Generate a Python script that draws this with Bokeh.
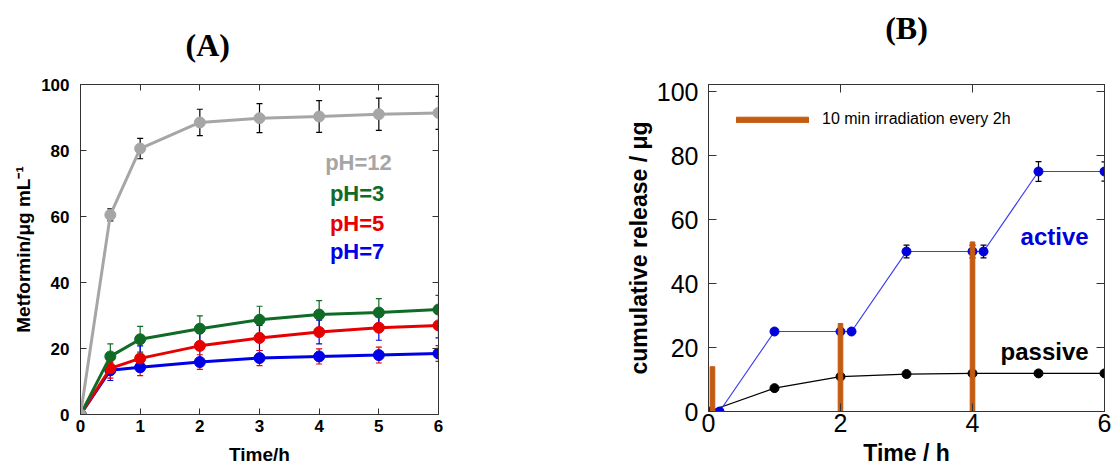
from bokeh.plotting import figure
from bokeh.models import (ColumnDataSource, Whisker, TeeHead, Label, LinearAxis,
                          FixedTicker, CustomJSTickFormatter, Legend, LegendItem)
from bokeh.layouts import row
from bokeh.embed import file_html
from bokeh.resources import INLINE

# ---------------- Panel A data ----------------
time_a = [0, 0.5, 1, 2, 3, 4, 5, 6]
ph12 = [0, 60.5, 80.6, 88.5, 89.8, 90.3, 91.0, 91.4]
ph12_err = [0, 1.8, 3.1, 4.0, 4.4, 4.8, 4.9, 5.0]
ph3 = [0, 17.6, 22.8, 26.0, 28.7, 30.3, 30.9, 31.8]
ph3_err = [0, 3.8, 3.9, 3.9, 4.1, 4.2, 4.2, 4.3]
ph5 = [0, 14.0, 17.0, 20.8, 23.2, 25.0, 26.3, 27.0]
ph5_err = [0, 3.7, 3.8, 3.8, 3.8, 3.6, 3.8, 3.8]
ph7 = [0, 13.4, 14.3, 15.9, 17.1, 17.6, 18.0, 18.5]
ph7_err = [0, 2.4, 2.5, 2.2, 2.3, 2.3, 2.4, 2.4]
labels_a = ["pH=12", "pH=3", "pH=5", "pH=7"]
ticks_a_x = [0, 1, 2, 3, 4, 5, 6]
ticks_a_y = [0, 20, 40, 60, 80, 100]

# ---------------- Panel B data ----------------
time_active = [0.167, 1, 2, 2.167, 3, 4, 4.167, 5, 6]
active = [0, 25, 25, 25, 50, 50, 50, 75, 75]
active_err = [0, 0, 0, 0, 2.0, 2.0, 2.0, 3.1, 3.0]
time_passive = [0, 1, 2, 3, 4, 5, 6]
passive = [0, 7.3, 10.9, 11.7, 11.9, 11.9, 11.9]
irr_time = [0.06, 2.0, 4.0]
irr_height = [14, 27.5, 53]
ticks_b_x = [0, 2, 4, 6]
ticks_b_y = [0, 20, 40, 60, 80, 100]

FONT = "Liberation Sans"
SERIF = "Liberation Serif"
AX = "#333333"


def add_mirror_axes(p, xticks, yticks, tick_len):
    top = LinearAxis(ticker=FixedTicker(ticks=xticks), formatter=CustomJSTickFormatter(code="return ''"))
    right = LinearAxis(ticker=FixedTicker(ticks=yticks), formatter=CustomJSTickFormatter(code="return ''"))
    for ax in (top, right):
        ax.major_tick_in = tick_len
        ax.major_tick_out = 0
        ax.minor_tick_in = 0
        ax.minor_tick_out = 0
        ax.axis_line_color = AX
        ax.major_tick_line_color = AX
        ax.major_label_text_font_size = "0px"
        ax.major_label_standoff = 0
    p.add_layout(top, "above")
    p.add_layout(right, "right")
    return top


def err_whisker(p, xs, ys, es, color):
    src = ColumnDataSource(dict(x=xs,
                                upper=[v + e for v, e in zip(ys, es)],
                                lower=[v - e for v, e in zip(ys, es)]))
    w = Whisker(source=src, base="x", upper="upper", lower="lower",
                line_color=color, line_width=1.2, level="underlay",
                upper_head=TeeHead(size=6, line_color=color, line_width=1.2),
                lower_head=TeeHead(size=6, line_color=color, line_width=1.2))
    p.add_layout(w)


# =============== Panel A ===============
pa = figure(frame_width=358, frame_height=330, x_range=(0, 6), y_range=(0, 100),
            output_backend="svg", toolbar_location=None,
            min_border_left=80, min_border_right=162, min_border_top=84, min_border_bottom=55)
pa.xgrid.visible = False
pa.ygrid.visible = False
pa.outline_line_color = AX
pa.background_fill_color = "white"
pa.border_fill_color = "white"
pa.title.text = "(A)"
pa.title.text_font = SERIF
pa.title.text_font_style = "bold"
pa.title.text_font_size = "32px"
pa.title.text_color = "black"
pa.title.align = "left"
pa.title.vertical_align = "top"
pa.title.offset = 105
pa.title.standoff = 40

pa.xaxis.ticker = FixedTicker(ticks=ticks_a_x)
pa.yaxis.ticker = FixedTicker(ticks=ticks_a_y)
for ax in (pa.xaxis[0], pa.yaxis[0]):
    ax.major_tick_in = 6
    ax.major_tick_out = 0
    ax.minor_tick_in = 0
    ax.minor_tick_out = 0
    ax.axis_line_color = AX
    ax.major_tick_line_color = AX
    ax.major_label_text_font = FONT
    ax.major_label_text_font_style = "bold"
    ax.major_label_text_font_size = "17px"
    ax.major_label_text_color = "black"
    ax.axis_label_text_font = FONT
    ax.axis_label_text_font_style = "bold"
    ax.axis_label_text_font_size = "19px"
    ax.axis_label_text_color = "black"
pa.xaxis.axis_label = "Time/h"
pa.yaxis.axis_label = "Metformin/μg mL⁻¹"
pa.xaxis.major_label_standoff = 5
pa.yaxis.major_label_standoff = 11
pa.xaxis.axis_label_standoff = 9
pa.yaxis.axis_label_standoff = 4
add_mirror_axes(pa, ticks_a_x, ticks_a_y, 6)

col12, col3, col5, col7 = "#a6a6a6", "#0f6b25", "#e60000", "#0000e6"
err_whisker(pa, time_a, ph12, ph12_err, "black")
err_whisker(pa, time_a, ph3, ph3_err, col3)
err_whisker(pa, time_a, ph5, ph5_err, col7)
err_whisker(pa, time_a, ph7, ph7_err, col5)

for ys, c in ((ph7, col7), (ph5, col5), (ph3, col3), (ph12, col12)):
    pa.line(time_a, ys, line_color=c, line_width=3)
    pa.scatter(time_a, ys, size=11, marker="circle", fill_color=c, line_color=c)

leg_y = [76.4, 67.0, 57.9, 49.4]
for txt, c, yy in zip(labels_a, (col12, col3, col5, col7), leg_y):
    pa.add_layout(Label(x=4.1 if txt == "pH=12" else 4.18, y=yy, text=txt, text_color=c,
                        text_font=FONT, text_font_style="bold", text_font_size="22px",
                        text_baseline="middle", text_align="left"))

# =============== Panel B ===============
# frames of a row share their top edge; B's frame starts at the same top as A,
# and its range is extended so that 100 sits where the reference puts it.
pb = figure(frame_width=396, frame_height=327, x_range=(0, 6), y_range=(0, 102.19),
            output_backend="svg", toolbar_location=None,
            min_border_left=108, min_border_right=10, min_border_top=84, min_border_bottom=58)
pb.xgrid.visible = False
pb.ygrid.visible = False
pb.outline_line_color = AX
pb.background_fill_color = "white"
pb.border_fill_color = "white"
pb.xaxis.ticker = FixedTicker(ticks=ticks_b_x)
pb.yaxis.ticker = FixedTicker(ticks=ticks_b_y)
for ax in (pb.xaxis[0], pb.yaxis[0]):
    ax.major_tick_in = 8
    ax.major_tick_out = 0
    ax.minor_tick_in = 0
    ax.minor_tick_out = 0
    ax.axis_line_color = AX
    ax.major_tick_line_color = AX
    ax.major_label_text_font = FONT
    ax.major_label_text_font_style = "normal"
    ax.major_label_text_font_size = "25px"
    ax.major_label_text_color = "black"
    ax.axis_label_text_font = FONT
    ax.axis_label_text_font_style = "bold"
    ax.axis_label_text_font_size = "23px"
    ax.axis_label_text_color = "black"
pb.xaxis.axis_label = "Time / h"
pb.yaxis.axis_label = "cumulative release / μg"
pb.xaxis.major_label_standoff = 2
pb.yaxis.major_label_standoff = 10
pb.xaxis.axis_label_standoff = 5
pb.yaxis.axis_label_standoff = 2
top_b = add_mirror_axes(pb, ticks_b_x, ticks_b_y, 8)
# panel heading "(B)" carried by the top axis
top_b.axis_label = "(B)"
top_b.axis_label_text_font = SERIF
top_b.axis_label_text_font_style = "bold"
top_b.axis_label_text_font_size = "32px"
top_b.axis_label_text_color = "black"
top_b.axis_label_standoff = 39

err_whisker(pb, time_active, active, active_err, "black")
pb.line(time_passive, passive, line_color="black", line_width=1.2)
pb.scatter(time_passive, passive, size=9, marker="circle", fill_color="black", line_color="black")
pb.line(time_active, active, line_color="#3c3cf0", line_width=1.2)
pb.scatter(time_active, active, size=9, marker="circle", fill_color="#0000dd", line_color="#0000dd")

bars = pb.vbar(x=irr_time, top=irr_height, bottom=0, width=0.07,
               fill_color="#c55a11", line_color="#c55a11")

legend = Legend(items=[LegendItem(label="10 min irradiation every 2h", renderers=[bars])],
                location=(19, 282), margin=0, padding=0, glyph_width=90, glyph_height=7,
                label_height=20, label_standoff=5, label_text_font=FONT,
                label_text_font_size="16px", label_text_color="black",
                border_line_color=None, background_fill_alpha=0)
pb.add_layout(legend)

pb.add_layout(Label(x=5.76, y=54.7, text="active", text_color="#0000dd", text_font=FONT,
                    text_font_style="bold", text_font_size="24px", text_align="right",
                    text_baseline="middle"))
pb.add_layout(Label(x=5.76, y=18.7, text="passive", text_color="black", text_font=FONT,
                    text_font_style="bold", text_font_size="24px", text_align="right",
                    text_baseline="middle"))

layout = row(pa, pb)
open("out.html", "w").write(file_html(layout, INLINE))
